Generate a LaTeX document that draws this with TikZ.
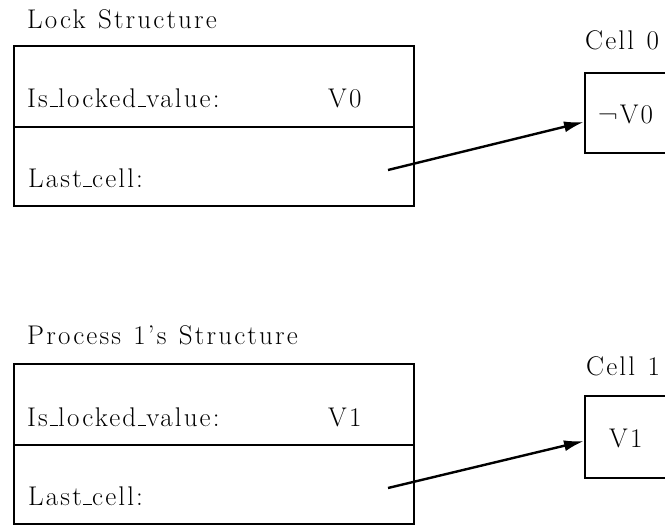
\documentclass[tikz,border=0pt]{standalone}
\usepackage{fontspec}
\setmainfont{Latin Modern Roman}[LetterSpace=8, WordSpace=1.2]
\usetikzlibrary{arrows.meta}
% short low rule in place of the underscore glyph
\newcommand{\lowbar}{\leavevmode\kern.06em\vbox{\hrule width.3em height 1pt}\kern.02em}
\tikzset{
  lbl/.style={anchor=base west, inner sep=0pt, font=\fontsize{27}{32}\selectfont},
  field/.style={draw, line width=2pt, anchor=north west, inner sep=0pt,
                minimum width=400pt, minimum height=81pt},
  cellbox/.style={draw, line width=2pt, anchor=north west, inner sep=0pt,
                  minimum width=100pt, minimum height=80pt},
  ptr/.style={line width=2.4pt, -{Latex[length=20pt,width=11pt]}}
}
\begin{document}
\begin{tikzpicture}[x=1pt,y=-1pt]
  \useasboundingbox (0,0) rectangle (665,525);

  % Lock structure
  \node[lbl] (locktitle) at (27,28) {Lock Structure};
  \node[field] (lockis) at (13,45) {};
  \node[field, minimum height=79pt] (locklast) at (13,126) {};
  \node[lbl] (lockisl) at (27,107) {Is\lowbar locked\lowbar value:};
  \node[lbl] (lockv) at (328,107) {V0};
  \node[lbl] (locklastl) at (28,187) {Last\lowbar cell:};
  \coordinate (lockptr) at (388,170);

  % Cell 0
  \node[lbl] (cell0title) at (585,49) {Cell 0};
  \node[cellbox] (cell0) at (584,72) {};
  \node[lbl] (cell0v) at (598,123) {¬V0};

  % Process 1's structure
  \node[lbl] (proctitle) at (27,344) {Process 1's Structure};
  \node[field] (procis) at (13,363) {};
  \node[field, minimum height=79pt] (proclast) at (13,444) {};
  \node[lbl] (procisl) at (27,426) {Is\lowbar locked\lowbar value:};
  \node[lbl] (procv) at (328,426) {V1};
  \node[lbl] (proclastl) at (28,505) {Last\lowbar cell:};
  \coordinate (procptr) at (388,488);

  % Cell 1
  \node[lbl] (cell1title) at (586,375) {Cell 1};
  \node[cellbox, minimum height=82pt] (cell1) at (584,395) {};
  \node[lbl] (cell1v) at (609,447) {V1};

  % Pointers
  \draw[ptr] (lockptr) -- ([yshift=-9pt]cell0.west);
  \draw[ptr] (procptr) -- ([yshift=-4pt]cell1.west);
\end{tikzpicture}
\end{document}
